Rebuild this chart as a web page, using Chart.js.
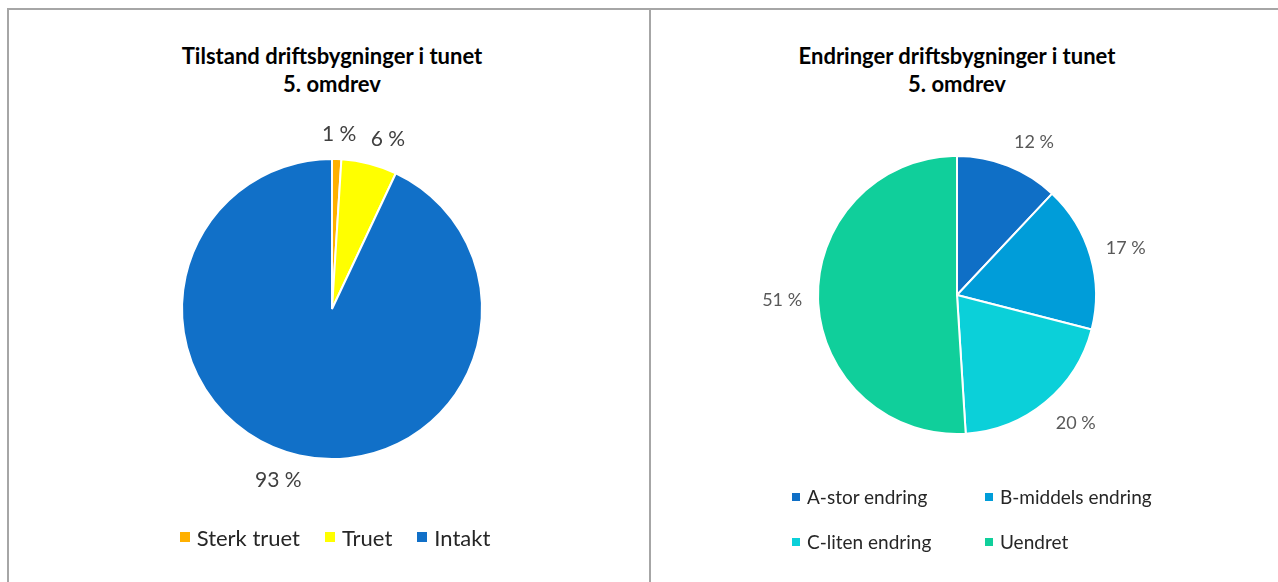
<!DOCTYPE html>
<html>
<head>
<meta charset="utf-8">
<script src="https://cdn.jsdelivr.net/npm/chart.js@4"></script>
<style>
  html, body { margin: 0; padding: 0; background: #fff; }
  body { width: 1278px; height: 582px; position: relative; overflow: hidden; font-family: Lato, "Open Sans", sans-serif; }
  .border { position: absolute; background: #a6a6a6; }
  .title { position: absolute; text-align: center; font-weight: bold; font-size: 22px; line-height: 28px; color: #000; white-space: nowrap; }
  canvas { position: absolute; }
  .legend { position: absolute; display: flex; align-items: center; white-space: nowrap; }
  .legend .item { display: flex; align-items: center; }
  .legend .box { display: inline-block; }
</style>
</head>
<body>
<div class="border" style="left:7px;top:8px;width:1271px;height:2px;"></div>
<div class="border" style="left:7px;top:8px;width:2px;height:574px;"></div>
<div class="border" style="left:649px;top:8px;width:2px;height:574px;"></div>

<div id="leftTitle" class="title" style="left:132px;width:400px;top:42px;"></div>
<div id="rightTitle" class="title" style="left:757px;width:400px;top:42px;"></div>

<canvas id="leftChart" width="440" height="440" style="left:112px;top:89px;"></canvas>
<canvas id="rightChart" width="440" height="440" style="left:737px;top:75px;"></canvas>

<div id="leftLegend" class="legend" style="left:135px;width:400px;top:524px;justify-content:center;"></div>
<div id="rightLegend" class="legend" style="left:792px;top:474px;width:400px;flex-wrap:wrap;"></div>

<script>
// ---- Data ----
const leftTitle = ['Tilstand driftsbygninger i tunet', '5. omdrev'];
const leftLabels = ['Sterk truet', 'Truet', 'Intakt'];
const leftValues = [1, 6, 93];
const leftColors = ['#FFB000', '#FFFF00', '#1170C8'];

const rightTitle = ['Endringer driftsbygninger i tunet', '5. omdrev'];
const rightLabels = ['A-stor endring', 'B-middels endring', 'C-liten endring', 'Uendret'];
const rightValues = [12, 17, 20, 51];
const rightColors = ['#0F6FC6', '#009DD9', '#0BD0D9', '#10CF9B'];

// ---- Titles ----
document.getElementById('leftTitle').innerHTML = leftTitle.join('<br>');
document.getElementById('rightTitle').innerHTML = rightTitle.join('<br>');

// ---- Legends ----
function buildLegend(el, labels, colors, opt) {
  labels.forEach((lab, i) => {
    const it = document.createElement('div');
    it.className = 'item';
    if (opt.itemWidth) it.style.width = opt.itemWidth + 'px';
    it.style.marginRight = (i === labels.length - 1 ? 0 : (opt.itemGap || 0)) + 'px';
    it.style.height = opt.rowHeight + 'px';
    const b = document.createElement('span');
    b.className = 'box';
    b.style.width = opt.box + 'px';
    b.style.height = opt.box + 'px';
    b.style.background = colors[i];
    b.style.marginRight = opt.boxGap + 'px';
    const t = document.createElement('span');
    t.textContent = lab;
    t.style.fontSize = opt.fontSize + 'px';
    t.style.color = opt.color;
    it.appendChild(b); it.appendChild(t);
    el.appendChild(it);
  });
}
buildLegend(document.getElementById('leftLegend'), leftLabels, leftColors,
  { box: 10, boxGap: 7, fontSize: 22, color: '#262626', itemGap: 25, rowHeight: 26 });
buildLegend(document.getElementById('rightLegend'), rightLabels, rightColors,
  { box: 8, boxGap: 7, fontSize: 19, color: '#262626', itemWidth: 193, rowHeight: 45 });

// ---- Outside labels plugin (best-fit style placement outside the slice) ----
const outsideLabels = {
  id: 'outsideLabels',
  afterDatasetsDraw(chart, args, opts) {
    const ctx = chart.ctx;
    const meta = chart.getDatasetMeta(0);
    const values = chart.data.datasets[0].data;
    ctx.save();
    ctx.font = opts.font;
    ctx.fillStyle = opts.color;
    ctx.textAlign = 'center';
    ctx.textBaseline = 'middle';
    const clamp = v => Math.max(-1, Math.min(1, v));
    meta.data.forEach((arc, i) => {
      const p = arc.getProps(['x', 'y', 'startAngle', 'endAngle', 'outerRadius'], true);
      const mid = (p.startAngle + p.endAngle) / 2;
      const dx = Math.cos(mid), dy = Math.sin(mid);
      const d = p.outerRadius + opts.gap;
      const txt = values[i] + ' %';
      const hw = ctx.measureText(txt).width / 2;
      const hh = opts.halfHeight;
      const cx = p.x + dx * d + hw * clamp(3.5 * dx);
      const cy = p.y + dy * d + hh * clamp(1.5 * dy);
      ctx.fillText(txt, cx, cy);
    });
    ctx.restore();
  }
};

function makePie(id, labels, values, colors, radius, labelOpts) {
  return new Chart(document.getElementById(id), {
    type: 'pie',
    data: {
      labels: labels,
      datasets: [{
        data: values,
        backgroundColor: colors,
        borderColor: '#ffffff',
        borderWidth: 2,
        radius: radius
      }]
    },
    options: {
      responsive: false,
      animation: false,
      layout: { padding: 0 },
      plugins: {
        legend: { display: false },
        tooltip: { enabled: false },
        title: { display: false },
        outsideLabels: labelOpts
      }
    },
    plugins: [outsideLabels]
  });
}

makePie('leftChart', leftLabels, leftValues, leftColors, 150,
  { font: '21px Lato, sans-serif', color: '#404040', gap: 15, halfHeight: 10 });
makePie('rightChart', rightLabels, rightValues, rightColors, 139,
  { font: '18px Lato, sans-serif', color: '#595959', gap: 16, halfHeight: 9 });
</script>
</body>
</html>
